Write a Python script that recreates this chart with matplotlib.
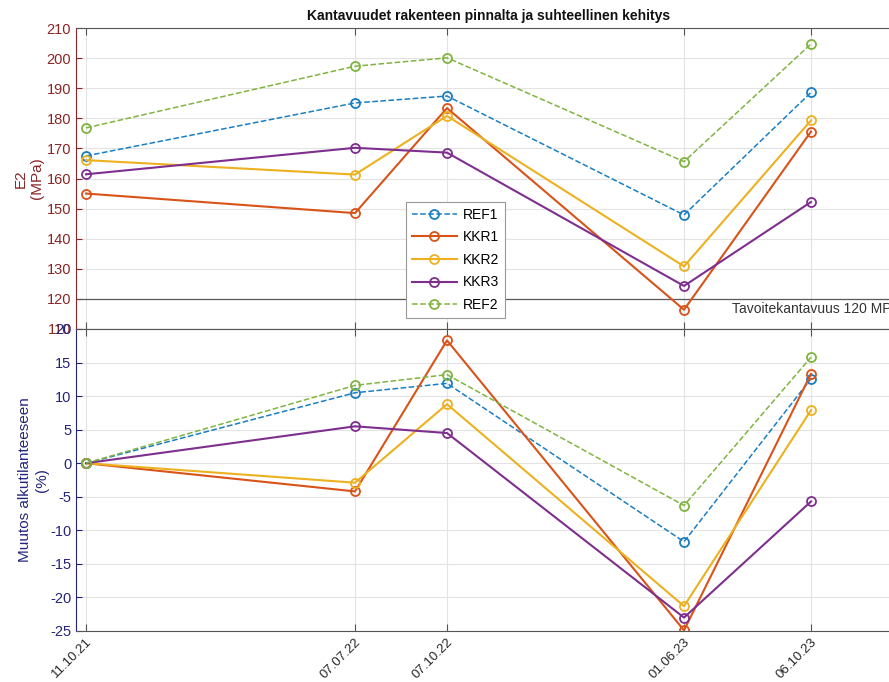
import matplotlib
matplotlib.use("Agg")
import matplotlib.pyplot as plt
import matplotlib.dates as mdates
import matplotlib.transforms as mtransforms
import numpy as np
from datetime import datetime

plt.rcParams['font.family'] = ['Liberation Sans', 'DejaVu Sans']
plt.rcParams['axes.unicode_minus'] = False

# Measurement dates
date_labels = ['11.10.21', '07.07.22', '07.10.22', '01.06.23', '06.10.23']
dates = [datetime.strptime(d, '%d.%m.%y') for d in date_labels]

series_names = ['REF1', 'KKR1', 'KKR2', 'KKR3', 'REF2']

# Bearing capacity E2 (MPa)
e2_ref1 = [167.5, 185.1, 187.4, 147.9, 188.6]
e2_kkr1 = [155.0, 148.5, 183.4, 116.4, 175.6]
e2_kkr2 = [166.1, 161.3, 180.8, 130.8, 179.3]
e2_kkr3 = [161.4, 170.2, 168.6, 124.3, 152.2]
e2_ref2 = [176.8, 197.3, 200.1, 165.6, 204.7]

# Change from the initial state (%)
pct_ref1 = [0.0, 10.5, 11.9, -11.7, 12.6]
pct_kkr1 = [0.0, -4.2, 18.3, -24.9, 13.3]
pct_kkr2 = [0.0, -2.9, 8.8, -21.3, 7.9]
pct_kkr3 = [0.0, 5.5, 4.5, -23.0, -5.7]
pct_ref2 = [0.0, 11.6, 13.2, -6.3, 15.8]

target_value = 120
target_label = 'Tavoitekantavuus 120 MPa'

e2_data = [e2_ref1, e2_kkr1, e2_kkr2, e2_kkr3, e2_ref2]
pct_data = [pct_ref1, pct_kkr1, pct_kkr2, pct_kkr3, pct_ref2]

colors = ['#1A7EC2', '#D95319', '#EDB120', '#7E2F8E', '#80B440']
styles = ['--', '-', '-', '-', '--']
widths = [1.1, 1.5, 1.5, 1.5, 1.1]

red_axis = '#8B2525'
blue_axis = '#24247D'
grid_col = '#E3E3E3'
frame_col = '#555555'

fig = plt.figure(figsize=(8.89, 6.82), dpi=100)
left = 76 / 889
width = (902 - 76) / 889
ax1 = fig.add_axes([left, 1 - 329 / 682, width, (329 - 28) / 682])
ax2 = fig.add_axes([left, 1 - 631 / 682, width, (631 - 329) / 682], sharex=ax1)

x = mdates.date2num(dates)
x0 = x[0] - 10
x1 = x[0] + 816

for name, ys, c, ls, lw in zip(series_names, e2_data, colors, styles, widths):
    ax1.plot(dates, ys, linestyle=ls, color=c, lw=lw, marker='o', ms=6.5,
             mfc='none', mec=c, mew=1.3, label=name)
for name, ys, c, ls, lw in zip(series_names, pct_data, colors, styles, widths):
    ax2.plot(dates, ys, linestyle=ls, color=c, lw=lw, marker='o', ms=6.5,
             mfc='none', mec=c, mew=1.3, label=name)

ax1.set_xlim(x0, x1)
ax1.set_ylim(110, 210)
ax1.set_yticks(np.arange(110, 211, 10))
ax2.set_ylim(-25, 20)
ax2.set_yticks(np.arange(-25, 21, 5))

for ax in (ax1, ax2):
    ax.set_xticks(x)
    ax.grid(True, color=grid_col, lw=0.8)
    ax.set_axisbelow(True)
    ax.tick_params(axis='x', direction='in', top=True, bottom=True, length=5,
                   color=frame_col)
    ax.tick_params(axis='y', direction='in', left=True, right=False, length=4,
                   labelsize=10.5)
    for s in ('top', 'bottom', 'right'):
        ax.spines[s].set_color(frame_col)
        ax.spines[s].set_linewidth(0.8)

ax1.tick_params(axis='x', labelbottom=False)
ax2.set_xticklabels(date_labels, rotation=45, ha='right', rotation_mode='anchor',
                    fontsize=9.5, color='#262626')

ax1.spines['left'].set_color(red_axis)
ax1.tick_params(axis='y', colors=red_axis)
ax2.spines['left'].set_color(blue_axis)
ax2.tick_params(axis='y', colors=blue_axis)

ax1.set_ylabel('E2\n(MPa)', color=red_axis, fontsize=11, labelpad=2)
ax2.set_ylabel('Muutos alkutilanteeseen\n(%)', color=blue_axis, fontsize=11,
               labelpad=1)

# Target bearing capacity line
ax1.axhline(target_value, color='#5A5A5A', lw=0.9, zorder=1.5)
trans = mtransforms.blended_transform_factory(ax1.transAxes, ax1.transData)
ax1.text(0.997, target_value - 3.3, target_label, transform=trans,
         ha='right', va='center', fontsize=10, color='#333333')

ax1.set_title('Kantavuudet rakenteen pinnalta ja suhteellinen kehitys',
              fontsize=10, fontweight='bold', pad=6, color='#111111')

leg = ax1.legend(loc='upper left', bbox_to_anchor=(0.3995, 0.422), fontsize=10,
                 frameon=True, fancybox=False, edgecolor='#999999',
                 framealpha=1, handlelength=3.3, labelspacing=0.62,
                 borderpad=0.4, handletextpad=0.4, borderaxespad=0)
leg.get_frame().set_linewidth(0.8)

fig.savefig('out.png', dpi=100)
